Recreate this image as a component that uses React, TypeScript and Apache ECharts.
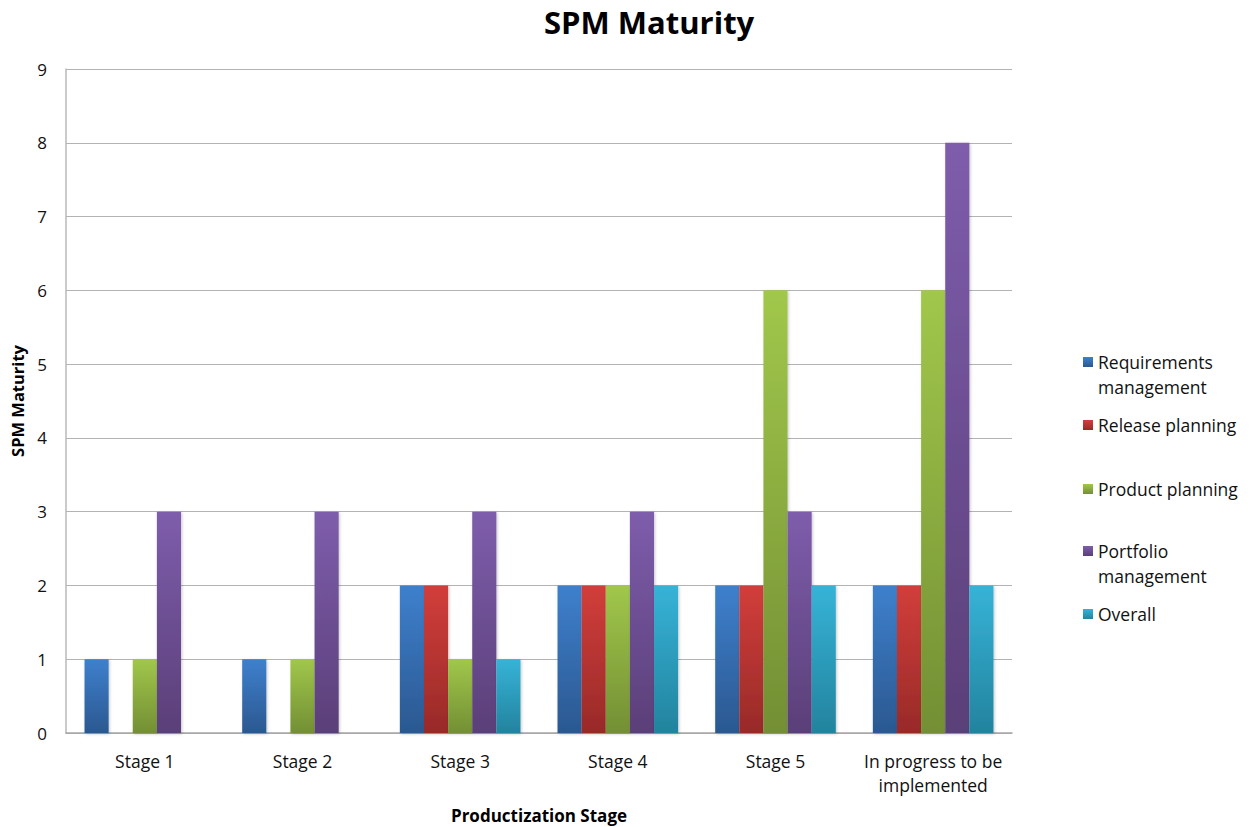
import React, { useEffect, useRef } from "react";
import * as echarts from "echarts";

const categories = [
  "Stage 1",
  "Stage 2",
  "Stage 3",
  "Stage 4",
  "Stage 5",
  "In progress to be\nimplemented",
];

const requirementsManagement = [1, 1, 2, 2, 2, 2];
const releasePlanning = [null, null, 2, 2, 2, 2];
const productPlanning = [1, 1, 1, 2, 6, 6];
const portfolioManagement = [3, 3, 3, 3, 3, 8];
const overall = [null, null, 1, 2, 2, 2];

const yTicks = { min: 0, max: 9, interval: 1 };

const FONT = "'Open Sans', 'Noto Sans', sans-serif";

// Legend icon centres (y) per entry; two-line entries align the icon with the first line.
const seriesDefs = [
  { name: "Requirements\nmanagement", data: requirementsManagement, top: "#3e80cd", bottom: "#2b5890", iconY: 362 },
  { name: "Release planning", data: releasePlanning, top: "#d23e3b", bottom: "#982a28", iconY: 425 },
  { name: "Product planning", data: productPlanning, top: "#a1c74b", bottom: "#738f34", iconY: 489 },
  { name: "Portfolio\nmanagement", data: portfolioManagement, top: "#7e5dac", bottom: "#5a3f78", iconY: 551 },
  { name: "Overall", data: overall, top: "#36b3d7", bottom: "#23839e", iconY: 614 },
];

const LINE_H = 25;

export default function App() {
  const ref = useRef<HTMLDivElement>(null);

  useEffect(() => {
    document.body.style.margin = "0";
    if (!ref.current) return;
    const chart = echarts.init(ref.current, null, { renderer: "svg" });

    const grad = (top: string, bottom: string) =>
      new echarts.graphic.LinearGradient(0, 0, 0, 1, [
        { offset: 0, color: top },
        { offset: 1, color: bottom },
      ]);

    chart.setOption({
      animation: false,
      backgroundColor: "#ffffff",
      title: {
        text: "SPM Maturity",
        left: 539,
        top: 1,
        textStyle: { fontFamily: FONT, fontSize: 31, fontWeight: "bold", color: "#000" },
      },
      legend: seriesDefs.map((s) => {
        const twoLine = s.name.includes("\n");
        // a blank leading line keeps the first text line level with the icon
        const blockH = twoLine ? LINE_H * 3 : LINE_H;
        return {
          data: [s.name],
          left: 1083,
          top: s.iconY - blockH / 2,
          orient: "vertical",
          icon: "rect",
          itemWidth: 10,
          itemHeight: 10,
          itemGap: 0,
          padding: 0,
          selectedMode: false,
          formatter: (name: string) => (name.includes("\n") ? " \n" + name : name),
          textStyle: {
            fontFamily: FONT,
            fontSize: 17.5,
            color: "#111",
            lineHeight: LINE_H,
          },
        };
      }),
      grid: {
        left: 66,
        right: 239,
        top: 69,
        bottom: 94,
        containLabel: false,
        outerBoundsMode: "none",
      },
      xAxis: {
        type: "category",
        data: categories,
        name: "Productization Stage",
        nameLocation: "middle",
        nameGap: 74,
        nameTextStyle: { fontFamily: FONT, fontSize: 17, fontWeight: "bold", color: "#000" },
        axisLine: { lineStyle: { color: "#a6a6a6", width: 1.5 } },
        axisTick: { show: false },
        axisLabel: {
          fontFamily: FONT,
          fontSize: 17.5,
          color: "#111",
          lineHeight: 24,
          margin: 16,
          interval: 0,
        },
      },
      yAxis: {
        type: "value",
        min: yTicks.min,
        max: yTicks.max,
        interval: yTicks.interval,
        name: "SPM Maturity",
        nameLocation: "middle",
        nameGap: 38,
        nameTextStyle: { fontFamily: FONT, fontSize: 16.5, fontWeight: "bold", color: "#000" },
        axisLine: { show: true, lineStyle: { color: "#b8b8b8", width: 1.5 } },
        axisTick: { show: false },
        splitLine: { lineStyle: { color: "#b3b3b3", width: 1.2 } },
        axisLabel: { fontFamily: FONT, fontSize: 17, color: "#111", margin: 19 },
      },
      series: seriesDefs.map((s) => ({
        name: s.name,
        type: "bar",
        data: s.data,
        barGap: "0%",
        barCategoryGap: "23.5%",
        itemStyle: {
          color: grad(s.top, s.bottom),
          shadowBlur: 3,
          shadowColor: "rgba(0,0,0,0.22)",
          shadowOffsetX: 1,
          shadowOffsetY: 1,
        },
      })),
    });

    return () => chart.dispose();
  }, []);

  return <div ref={ref} style={{ width: 1251, height: 827 }} />;
}
